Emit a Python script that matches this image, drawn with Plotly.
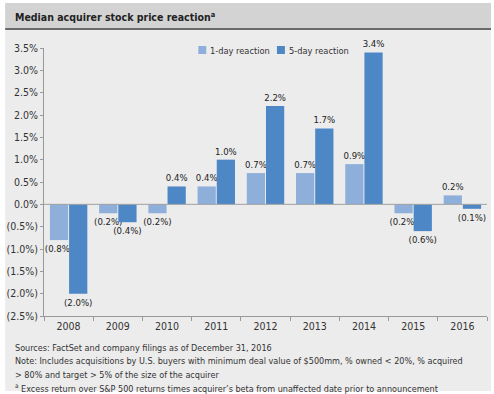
import plotly.graph_objects as go

years = ["2008", "2009", "2010", "2011", "2012", "2013", "2014", "2015", "2016"]
one_day = [-0.8, -0.2, -0.2, 0.4, 0.7, 0.7, 0.9, -0.2, 0.2]
five_day = [-2.0, -0.4, 0.4, 1.0, 2.2, 1.7, 3.4, -0.6, -0.1]
series_names = ["1-day reaction", "5-day reaction"]
tick_vals = [-2.5, -2.0, -1.5, -1.0, -0.5, 0.0, 0.5, 1.0, 1.5, 2.0, 2.5, 3.0, 3.5]

title_text = "Median acquirer stock price reaction<sup>a</sup>"
footnotes = [
    "Sources: FactSet and company filings as of December 31, 2016",
    "Note: Includes acquisitions by U.S. buyers with minimum deal value of $500mm, % owned < 20%, % acquired",
    "> 80% and target > 5% of the size of the acquirer",
    "<sup>a</sup> Excess return over S&P 500 returns times acquirer\u2019s beta from unaffected date prior to announcement",
]

LIGHT = "#8fafdb"
DARK = "#4d87c5"
FONT = "DejaVu Sans Condensed, Liberation Sans Narrow, Roboto, sans-serif"

W, H = 494, 394
L, R, T, B = 42, 487, 48, 316


def px(x):
    return (x - L) / (R - L)


def py(y):
    return (B - y) / (B - T)


def fmt(v):
    return f"({abs(v):.1f}%)" if v < 0 else f"{v:.1f}%"


fig = go.Figure()
for name, vals, col in [(series_names[0], one_day, LIGHT), (series_names[1], five_day, DARK)]:
    fig.add_trace(go.Bar(
        x=years, y=vals, name=name, marker=dict(color=col, line=dict(width=0)),
        text=[fmt(v) for v in vals], textposition="outside", constraintext="none",
        textfont=dict(size=9.5, color="#222", family=FONT),
        cliponaxis=False, showlegend=False, hoverinfo="skip",
    ))

shapes = [
    dict(type="rect", xref="paper", yref="paper", x0=px(3), x1=px(491), y0=py(391), y1=py(3),
         fillcolor="#ececec", line=dict(width=0), layer="below"),
    dict(type="rect", xref="paper", yref="paper", x0=px(3), x1=px(491), y0=py(28), y1=py(3),
         fillcolor="#d3d3d3", line=dict(width=0), layer="below"),
    dict(type="line", xref="paper", yref="paper", x0=px(3), x1=px(491), y0=py(29), y1=py(29),
         line=dict(color="#6a6a6a", width=2)),
    dict(type="line", xref="paper", yref="y", x0=0, x1=1, y0=0, y1=0,
         line=dict(color="#a0a0a0", width=1)),
    dict(type="rect", xref="paper", yref="paper", x0=px(197), x1=px(205), y0=py(54), y1=py(46),
         fillcolor=LIGHT, line=dict(width=0)),
    dict(type="rect", xref="paper", yref="paper", x0=px(276), x1=px(284), y0=py(54), y1=py(46),
         fillcolor=DARK, line=dict(width=0)),
]

annotations = [
    dict(text="<b>" + title_text + "</b>", xref="paper", yref="paper", x=px(11), y=py(17),
         xanchor="left", yanchor="middle", showarrow=False,
         font=dict(size=10.5, color="#222", family=FONT)),
    dict(text=series_names[0], xref="paper", yref="paper", x=px(207), y=py(50),
         xanchor="left", yanchor="middle", showarrow=False,
         font=dict(size=9.2, color="#333", family=FONT)),
    dict(text=series_names[1], xref="paper", yref="paper", x=px(286), y=py(50),
         xanchor="left", yanchor="middle", showarrow=False,
         font=dict(size=9.2, color="#333", family=FONT)),
]
for i, line in enumerate(footnotes):
    annotations.append(dict(text=line, xref="paper", yref="paper", x=px(11), y=py(348 + 13.3 * i),
                            xanchor="left", yanchor="middle", showarrow=False,
                            font=dict(size=9, color="#333", family=FONT)))

fig.update_layout(
    width=W, height=H,
    margin=dict(l=L, r=W - R, t=T, b=H - B),
    paper_bgcolor="white", plot_bgcolor="rgba(0,0,0,0)",
    barmode="group", bargap=0.22, bargroupgap=0.05,
    shapes=shapes, annotations=annotations,
    font=dict(family=FONT, size=10.5, color="#333"),
    hovermode=False,
    xaxis=dict(
        showline=True, linecolor="#999", linewidth=1,
        ticks="outside", ticklen=4, tickcolor="#999", tickson="boundaries",
        tickfont=dict(size=10.5, color="#333"), showgrid=False, fixedrange=True,
    ),
    yaxis=dict(
        range=[-2.5, 3.5], tickvals=tick_vals, ticktext=[fmt(v) for v in tick_vals],
        showline=True, linecolor="#999", linewidth=1,
        ticks="outside", ticklen=3, tickcolor="#999",
        tickfont=dict(size=10.5, color="#333"), showgrid=False, zeroline=False,
        fixedrange=True,
    ),
)

fig.write_html("out.html", config={"displayModeBar": False},
               post_script="document.body.style.margin='0';document.body.style.overflow='hidden';")
